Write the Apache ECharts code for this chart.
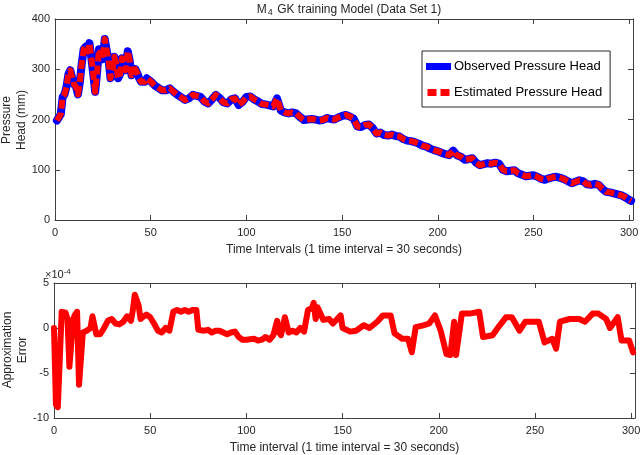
<!DOCTYPE html>
<html><head><meta charset="utf-8">
<script src="https://cdn.jsdelivr.net/npm/echarts@6/dist/echarts.min.js"></script>
<style>html,body{margin:0;padding:0;background:#fff}#c{width:640px;height:455px}</style>
</head><body><div id="c"></div>
<script>
// Top panel: pressure head (mm) vs time interval
const headT = [1,2,3,4,5,6,7,8,9,10,11,12,13,14,15,16,17,18,19,20,21,22,23,24,25,26,27,28,29,30,31,32,33,34,35,36,37,38,39,40,41,42,43,44,45,46,47,48,49,50,
  52,54,56,58,60,62,64,66,68,70,72,74,76,78,80,82,84,86,88,90,92,94,96,98,100,102,104,106,108,110,112,114,116,118,120,122,124,126,128,130,132,134,136,138,140,142,144,146,148,150,
  152,154,156,158,160,162,164,166,168,170,172,174,176,178,180,182,184,186,188,190,192,194,196,198,200,202,204,206,208,210,212,214,216,218,220,222,224,226,228,230,232,234,236,238,240,242,244,246,248,250,
  252,254,256,258,260,262,264,266,268,270,272,274,276,278,280,282,284,286,288,290,292,294,296,298,300,301];
const observedHead = [198,200,210,245,250,265,290,298,282,270,265,250,275,312,340,345,335,352,322,290,255,295,340,332,320,360,338,318,282,298,325,308,282,290,322,310,298,336,318,288,290,300,292,282,275,272,275,282,284,276,
  268,263,258,258,262,255,249,244,239,242,249,247,245,236,232,240,249,243,234,232,240,242,229,235,245,246,240,236,231,230,228,226,242,218,214,212,214,212,205,199,200,201,200,198,199,203,201,200,204,207,
  209,206,202,186,185,189,190,183,172,174,169,168,170,167,166,161,158,157,155,152,148,146,142,139,137,134,131,129,138,129,126,120,121,123,114,109,111,113,112,114,112,100,97,98,99,93,90,87,88,89,
  86,82,80,83,85,86,84,81,77,73,76,79,77,71,70,72,70,62,56,55,53,51,49,45,40,38];
const estimatedHead = observedHead; // model error is ~1e-4 mm, visually identical

// Bottom panel: approximation error (x 1e-4)
const errT = [0,1,2,3,4,5,6,7,8,9,10,11,12,13,14,15,17,19,20,21,22,24,26,28,30,32,34,36,38,40,41,42,43,44,45,46,48,50,52,54,56,58,60,62,64,66,68,70,72,74,75,78,80,82,84,86,88,90,92,94,96,98,100,104,106,108,110,112,114,116,117,118,120,122,124,126,128,130,132,134,135,136,137,138,140,143,145,149,150,154,157,161,164,168,171,175,177,181,184,186,188,192,195,198,201,204,206,208,209,210,212,216,221,223,228,231,235,238,242,245,252,255,259,261,263,268,273,276,280,283,287,289,293,295,299,301];
const errV = [0,-8.5,-8.8,-8.8,1.8,1.8,1.7,1.0,-4.3,-4.3,1.0,1.5,1.8,-6.3,-6.3,-0.5,-0.3,0,1.3,1.2,-0.7,-0.7,0,0.8,1.0,0.5,0.4,0.7,1.3,0.8,2.0,3.7,3.8,2.5,1.0,0.8,1.5,1.2,0.5,-0.3,-0.5,0,-0.3,1.8,2.0,1.8,2.0,1.8,2.0,2.0,-0.2,-0.3,-0.2,-0.5,-0.3,-0.3,-0.5,-0.7,-0.5,-0.4,-1.0,-1.3,-1.3,-1.2,-1.4,-1.3,-1.0,-1.3,-0.8,0.8,-0.5,-0.8,1.2,-0.5,-0.3,-0.5,0,-0.4,2.0,2.2,2.8,1.0,2.3,2.3,0.9,1.0,0.5,1.4,0,-0.4,-0.3,0.3,0,0.7,1.4,1.4,-0.6,-1.2,-1.2,-2.7,0.1,0.3,0.5,1.4,-0.3,-2.9,-3.0,0.7,-3.0,-3.2,1.6,1.6,1.8,-1.0,-0.8,0.1,1.2,1.2,-0.3,0.7,0.7,-1.6,-1.2,-2.3,0.7,1.0,1.0,0.7,1.6,1.6,1.0,0,1.2,-1.4,-1.4,-2.7];

const xTicks = [0,50,100,150,200,250,300];
const headTicks = [0,100,200,300,400];
const errTicks = [-10,-5,0,5];

const pair = (xs, ys) => xs.map((x, i) => [x, ys[i]]);
const FONT = '"Liberation Sans", Arial, sans-serif';
const TXT = '#262626', AX = '#404040';

function xAx(gi, name, show) {
  return {
    type: 'value', gridIndex: gi, min: 0, max: 302, interval: 50,
    position: show ? 'bottom' : 'top',
    axisLine: { show: true, onZero: false, lineStyle: { color: AX } },
    axisTick: { show: true, inside: true, length: 5, lineStyle: { color: AX } },
    axisLabel: { show: show, color: TXT, fontSize: 11, fontFamily: FONT, margin: 7, showMaxLabel: false,
      formatter: v => xTicks.indexOf(v) >= 0 ? String(v) : '' },
    splitLine: { show: false },
    name: show ? name : '', nameLocation: 'middle', nameGap: 24,
    nameTextStyle: { color: TXT, fontSize: 12, fontFamily: FONT }
  };
}
function yAx(gi, min, max, interval, ticks, show) {
  return {
    type: 'value', gridIndex: gi, min: min, max: max, interval: interval,
    position: show ? 'left' : 'right',
    axisLine: { show: true, onZero: false, lineStyle: { color: AX } },
    axisTick: { show: true, inside: true, length: 5, lineStyle: { color: AX } },
    axisLabel: { show: show, color: TXT, fontSize: 11, fontFamily: FONT, margin: 5,
      formatter: v => ticks.indexOf(v) >= 0 ? String(v) : '' },
    splitLine: { show: false }
  };
}
function yName(text, x, y) {
  return { type: 'text', x: x, y: y, rotation: Math.PI / 2,
    style: { text: text, fill: TXT, fontSize: 12, fontFamily: FONT, lineHeight: 15,
      textAlign: 'center', textVerticalAlign: 'middle', align: 'center', verticalAlign: 'middle' } };
}

const chart = echarts.init(document.getElementById('c'), null, { renderer: 'canvas' });
chart.setOption({
  animation: false,
  backgroundColor: '#fff',
  title: {
    text: '{a|M}{s|4}{a| GK training Model (Data Set 1)}',
    left: 344, top: -2, textAlign: 'center',
    textStyle: { fontWeight: 'normal', rich: {
      a: { fontSize: 12, fontFamily: FONT, color: TXT, lineHeight: 14, fontWeight: 'normal' },
      s: { fontSize: 9, fontFamily: FONT, color: TXT, lineHeight: 10, padding: [7, 1, 0, 1], verticalAlign: 'bottom', fontWeight: 'normal' }
    } }
  },
  grid: [
    { left: 55, top: 19, right: 7, height: 201, containLabel: false, outerBoundsMode: 'none' },
    { left: 54, top: 283, right: 5, height: 135, containLabel: false, outerBoundsMode: 'none' }
  ],
  xAxis: [
    xAx(0, 'Time Intervals (1 time interval = 30 seconds)', true),
    xAx(0, '', false),
    xAx(1, 'Time interval (1 time interval = 30 seconds)', true),
    xAx(1, '', false)
  ],
  yAxis: [
    yAx(0, 0, 400, 100, headTicks, true),
    yAx(0, 0, 400, 100, headTicks, false),
    yAx(1, -10, 5, 5, errTicks, true),
    yAx(1, -10, 5, 5, errTicks, false)
  ],
  legend: {
    orient: 'vertical', left: 422, top: 51, width: 180,
    backgroundColor: '#fff', borderColor: '#262626', borderWidth: 1, borderRadius: 0,
    padding: [9, 8, 8, 4], itemGap: 13, selectedMode: false,
    textStyle: { color: '#000', fontSize: 13, fontFamily: FONT, padding: [0, 0, 0, -2] },
    data: [
      { name: 'Observed Pressure Head', icon: 'rect', itemStyle: { color: '#0000ff' } },
      { name: 'Estimated Pressure Head', icon: 'path://M0,0h9v7h-9z M13,0h9v7h-9z', itemStyle: { color: '#ff0000' } }
    ],
    itemWidth: 25, itemHeight: 7
  },
  graphic: [
    yName('Pressure\nHead (mm)', 14, 120),
    yName('Approximation\nError', 15, 350),
    { type: 'text', left: 45, top: 268,
      style: { text: '{a|×10}{s|-4}', rich: {
        a: { fontSize: 11, fontFamily: FONT, fill: TXT, lineHeight: 14 },
        s: { fontSize: 8, fontFamily: FONT, fill: TXT, lineHeight: 8, verticalAlign: 'top', padding: [0,0,6,0] }
      } } }
  ],
  series: [
    { name: 'Observed Pressure Head', type: 'line', xAxisIndex: 0, yAxisIndex: 0,
      data: pair(headT, observedHead), showSymbol: false, symbol: 'none',
      itemStyle: { color: '#0000ff' },
      lineStyle: { color: '#0000ff', width: 8, cap: 'round', join: 'round' } },
    { name: 'Estimated Pressure Head', type: 'line', xAxisIndex: 0, yAxisIndex: 0,
      data: pair(headT, estimatedHead), showSymbol: false, symbol: 'none',
      itemStyle: { color: '#ff0000' },
      lineStyle: { color: '#ff0000', width: 6, type: [9, 4], cap: 'butt', join: 'round' } },
    { name: 'Approximation Error', type: 'line', xAxisIndex: 2, yAxisIndex: 2,
      data: pair(errT, errV), showSymbol: false, symbol: 'none',
      lineStyle: { color: '#ff0000', width: 6, cap: 'round', join: 'round' } }
  ]
});
</script></body></html>
